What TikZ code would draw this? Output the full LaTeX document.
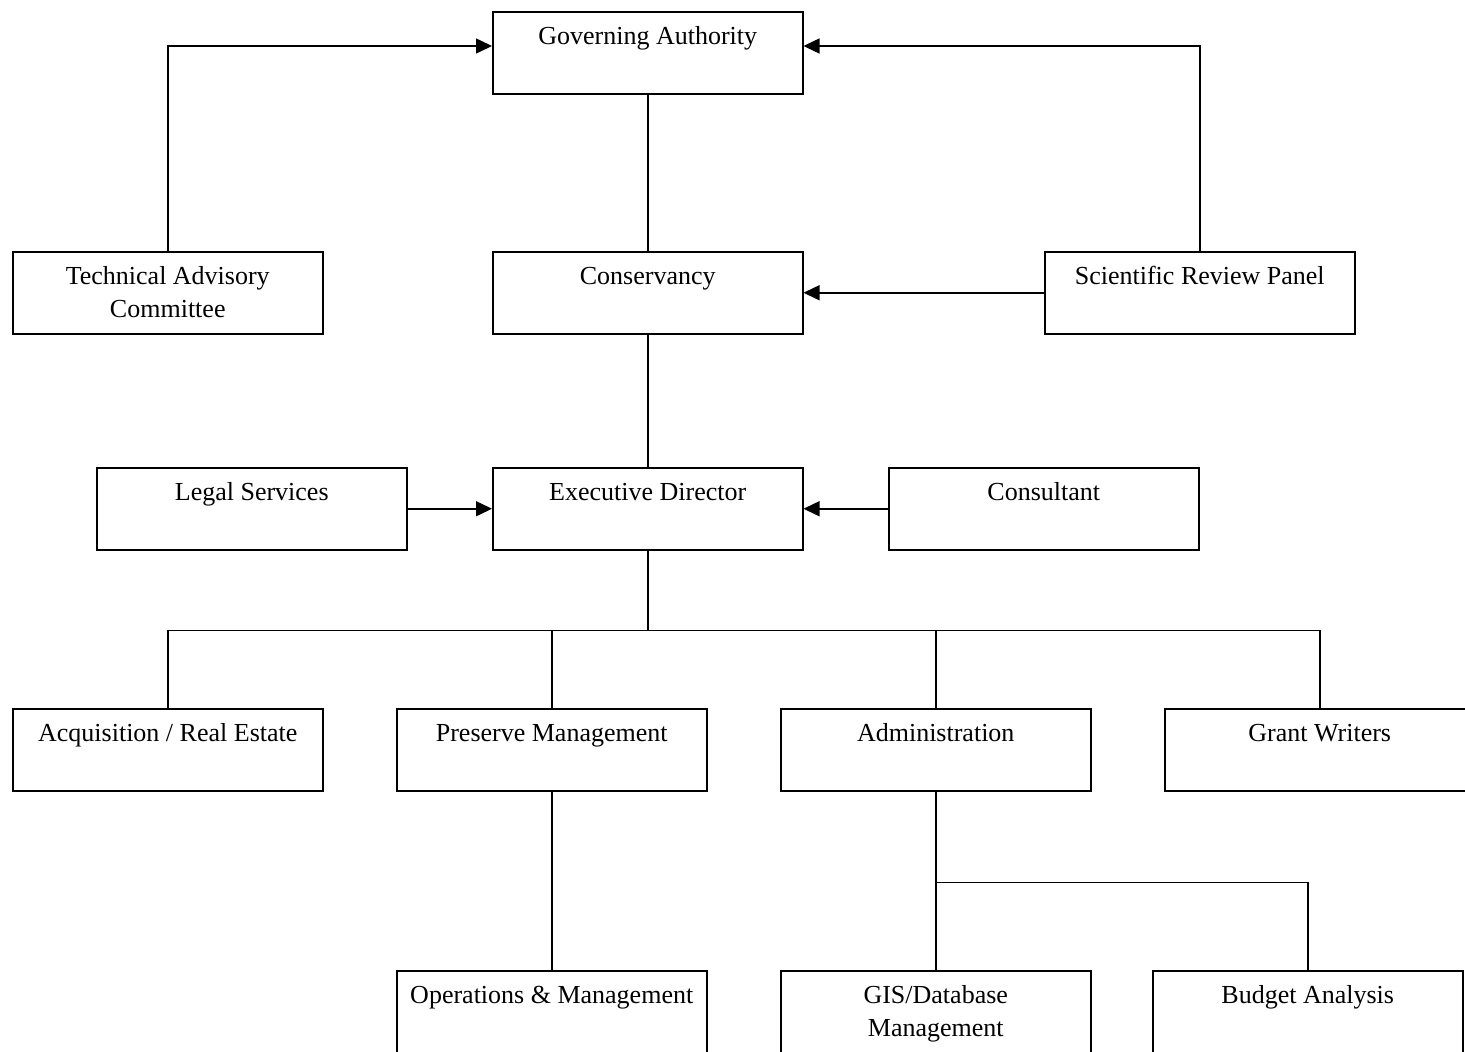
\documentclass[tikz,border=0pt]{standalone}
\usepackage{fontspec}
\setmainfont{Liberation Serif}
\usetikzlibrary{arrows.meta,calc}
\tikzset{
  orgbox/.style={draw, line width=1.5pt, inner sep=0pt, anchor=north west},
  link/.style={line width=1.5pt},
  arr/.style={line width=1.5pt, -{Triangle[length=16pt,width=15pt]}}
}
\newcommand{\boxtext}[1]{\parbox[b][82pt][t]{310pt}{\centering\fontsize{26}{33}\selectfont\rule{0pt}{33pt}#1}}
\begin{document}
\begin{tikzpicture}[x=1pt,y=-1pt]
\useasboundingbox (0,0) rectangle (1465,1052);
\node[orgbox] (ga)  at (492,11)  {\boxtext{Governing Authority}};
\node[orgbox] (tac) at (12,251)  {\boxtext{Technical Advisory\\Committee}};
\node[orgbox] (con) at (492,251) {\boxtext{Conservancy}};
\node[orgbox] (srp) at (1044,251){\boxtext{Scientific Review Panel}};
\node[orgbox] (ls)  at (96,467)  {\boxtext{Legal Services}};
\node[orgbox] (ed)  at (492,467) {\boxtext{Executive Director}};
\node[orgbox] (cs)  at (888,467) {\boxtext{Consultant}};
\node[orgbox] (aq)  at (12,708)  {\boxtext{Acquisition / Real Estate}};
\node[orgbox] (pm)  at (396,708) {\boxtext{Preserve Management}};
\node[orgbox] (ad)  at (780,708) {\boxtext{Administration}};
\node[orgbox] (gw)  at (1164,708){\boxtext{Grant Writers}};
\node[orgbox] (om)  at (396,970) {\boxtext{Operations \& Management}};
\node[orgbox] (gis) at (780,970) {\boxtext{GIS/Database\\Management}};
\node[orgbox] (ba)  at (1152,970){\boxtext{Budget Analysis}};
\coordinate (gal) at ($(ga.north west)+(0,35)$);
\coordinate (gar) at ($(ga.north east)+(0,35)$);
\coordinate (bus) at ($(ed.south)+(0,80)$);
\coordinate (abus) at ($(ad.south)+(0,91)$);
% connectors
\draw[arr] (tac.north) |- (gal);
\draw[arr] (srp.north) |- (gar);
\draw[link] (ga.south) -- (con.north);
\draw[arr] (srp.west) -- (con.east);
\draw[link] (con.south) -- (ed.north);
\draw[arr] (ls.east) -- (ed.west);
\draw[arr] (cs.west) -- (ed.east);
\draw[link] (ed.south) -- (bus);
\draw[link] (aq.north) |- (bus) -| (gw.north);
\draw[link] (pm.north) -- (pm.north |- bus);
\draw[link] (ad.north) -- (ad.north |- bus);
\draw[link] (pm.south) -- (om.north);
\draw[link] (ad.south) -- (gis.north);
\draw[link] (ba.north) |- (abus);
\end{tikzpicture}
\end{document}
